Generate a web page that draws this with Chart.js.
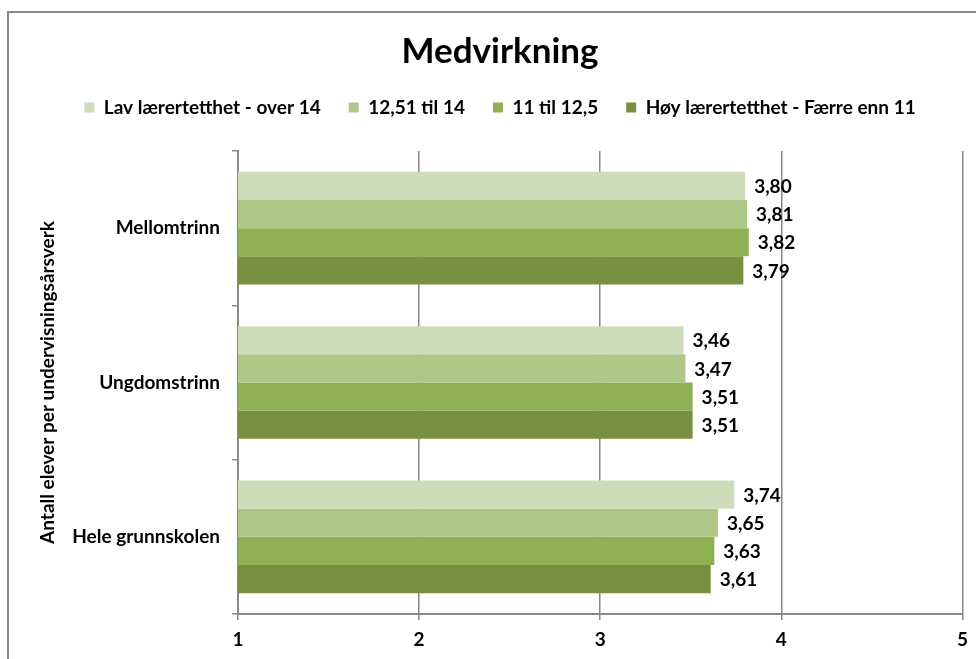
<!DOCTYPE html>
<html><head><meta charset="utf-8">
<script src="https://cdn.jsdelivr.net/npm/chart.js@4"></script>
<style>
html,body{margin:0;padding:0;background:#fff;}
#wrap{position:relative;width:976px;height:659px;overflow:hidden;}
#frame{position:absolute;left:7px;top:11px;width:1000px;height:700px;border:2px solid #888;box-sizing:border-box;}
canvas{position:absolute;left:0;top:0;}
</style></head>
<body><div id="wrap"><div id="frame"></div><canvas id="c" width="976" height="659"></canvas></div>
<script>
const categories = ["Mellomtrinn", "Ungdomstrinn", "Hele grunnskolen"];
const seriesNames = ["Lav lærertetthet - over 14", "12,51 til 14", "11 til 12,5", "Høy lærertetthet - Færre enn 11"];
const lavValues = [3.80, 3.46, 3.74];
const mid1Values = [3.81, 3.47, 3.65];
const mid2Values = [3.82, 3.51, 3.63];
const hoyValues = [3.79, 3.51, 3.61];
const xTicks = [1, 2, 3, 4, 5];
const colors = ["#CFDCB9", "#ADC786", "#8FAF55", "#789140"];
const FONT = "Lato, 'Open Sans', sans-serif";

const labelPlugin = {
  id: 'valueLabels',
  afterDatasetsDraw(chart) {
    const ctx = chart.ctx;
    ctx.save();
    ctx.font = "bold 19px " + FONT;
    ctx.fillStyle = "#000";
    ctx.textAlign = "left";
    ctx.textBaseline = "middle";
    chart.data.datasets.forEach((ds, i) => {
      chart.getDatasetMeta(i).data.forEach((bar, j) => {
        ctx.fillText(ds.data[j].toFixed(2).replace('.', ','), bar.x + 9, bar.y + 1);
      });
    });
    ctx.restore();
  }
};

const legendSpacer = {
  id: 'legendSpacer',
  beforeLayout(chart) {
    const lg = chart.legend;
    if (lg && !lg._wrapped) {
      const orig = lg.fit;
      lg.fit = function () { orig.call(this); this.height += 24; };
      lg._wrapped = true;
    }
  }
};

new Chart(document.getElementById('c'), {
  type: 'bar',
  data: {
    labels: categories,
    datasets: [lavValues, mid1Values, mid2Values, hoyValues].map((d, i) => ({
      label: seriesNames[i], data: d, backgroundColor: colors[i], borderWidth: 0,
      categoryPercentage: 0.73, barPercentage: 1.0
    }))
  },
  options: {
    indexAxis: 'y',
    responsive: false,
    animation: false,
    layout: { padding: { top: 34, left: 36, right: 12, bottom: 0 } },
    plugins: {
      title: { display: true, text: 'Medvirkning', color: '#000', font: { family: FONT, size: 35, weight: 'bold', lineHeight: 1.0 }, padding: { top: 0, bottom: 1 } },
      legend: { position: 'top', labels: { color: '#000', boxWidth: 10, boxHeight: 10, padding: 28, font: { family: FONT, size: 19, weight: 'bold' } } },
      tooltip: { enabled: false }
    },
    scales: {
      x: {
        min: 1, max: 5,
        afterBuildTicks(s) { s.ticks = xTicks.map(v => ({ value: v })); },
        afterFit(s) { s.height = 45; },
        ticks: { color: '#000', font: { family: FONT, size: 19, weight: 'bold' }, padding: 8 },
        grid: { color: '#888', lineWidth: 1.5, tickLength: 6 },
        border: { color: '#888', width: 2 }
      },
      y: {
        afterFit(s) { s.width = 202; },
        ticks: { color: '#000', font: { family: FONT, size: 19, weight: 'bold' }, padding: 12 },
        grid: { offset: true, drawOnChartArea: false, color: '#888', lineWidth: 1.5, tickLength: 6 },
        border: { color: '#888', width: 2 },
        title: { display: true, text: 'Antall elever per undervisningsårsverk', color: '#000', font: { family: FONT, size: 19, weight: 'bold' }, padding: 0 }
      }
    }
  },
  plugins: [labelPlugin, legendSpacer]
});
</script></body></html>
